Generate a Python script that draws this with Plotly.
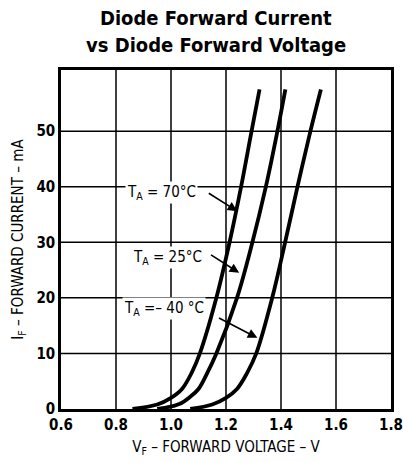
import plotly.graph_objects as go

# Forward voltage (V) / forward current (mA)
i_70c = [0, 0.8, 2.0, 3.6, 6.5, 10, 20, 30, 40, 50, 57.5]
v_70c = [0.86, 0.95, 1.00, 1.04, 1.075, 1.105, 1.165, 1.213, 1.255, 1.293, 1.322]
i_25c = [0, 0.9, 2.2, 3.6, 6.5, 10, 20, 30, 40, 50, 57.5]
v_25c = [0.95, 1.03, 1.07, 1.10, 1.132, 1.165, 1.24, 1.296, 1.345, 1.387, 1.416]
i_m40c = [0, 0.8, 2.0, 3.6, 6.5, 10, 20, 30, 40, 50, 57.5]
v_m40c = [1.07, 1.15, 1.20, 1.24, 1.277, 1.31, 1.368, 1.415, 1.46, 1.507, 1.545]

x_ticks = [0.6, 0.8, 1.0, 1.2, 1.4, 1.6, 1.8]
y_ticks = [0, 10, 20, 30, 40, 50]
x_max, y_max = 1.8, 61

# label text, label position (V, mA), arrow tail, arrow head
labels = [
    ("T<sub>A</sub> = 70°C", 0.967, 38.9, 1.132, 39.0, 1.241, 35.6),
    ("T<sub>A</sub> = 25°C", 0.987, 27.2, 1.14, 27.9, 1.248, 24.5),
    ("T<sub>A</sub> =– 40 °C", 0.974, 18.1, 1.169, 16.5, 1.314, 12.8),
]

FONT = "Liberation Sans Narrow, DejaVu Sans Condensed, Arial Narrow, sans-serif"

fig = go.Figure()
for v, i in ((v_70c, i_70c), (v_25c, i_25c), (v_m40c, i_m40c)):
    fig.add_trace(go.Scatter(
        x=v, y=i, mode="lines",
        line=dict(color="black", width=3.8, shape="spline", smoothing=1.0),
        showlegend=False, hoverinfo="skip",
    ))

# grid drawn as shapes at the tick positions
for xv in x_ticks[1:-1]:
    fig.add_shape(type="line", x0=xv, x1=xv, y0=0, y1=y_max, xref="x", yref="y",
                  line=dict(color="black", width=1.5), layer="below")
for yv in y_ticks[1:]:
    fig.add_shape(type="line", x0=x_ticks[0], x1=x_max, y0=yv, y1=yv, xref="x", yref="y",
                  line=dict(color="black", width=1.5), layer="below")

for text, tx, ty, ax, ay, hx, hy in labels:
    fig.add_annotation(
        x=tx, y=ty, text=text, showarrow=False,
        font=dict(family=FONT, size=15, color="black"),
        bgcolor="white", xanchor="center", yanchor="middle",
    )
    fig.add_annotation(
        x=hx, y=hy, ax=ax, ay=ay, axref="x", ayref="y",
        text="", showarrow=True, arrowhead=2, arrowsize=1.2,
        arrowwidth=1.6, arrowcolor="black",
    )

# two-line title
for text, ypos in (("Diode Forward Current", 1.153), ("vs Diode Forward Voltage", 1.074)):
    fig.add_annotation(
        x=0.47, y=ypos, xref="paper", yref="paper", text=f"<b>{text}</b>",
        showarrow=False, xanchor="center", yanchor="middle",
        font=dict(family=FONT, size=20, color="black"),
    )

fig.update_layout(
    width=403, height=462,
    margin=dict(l=61, r=12, t=70, b=53),
    paper_bgcolor="white", plot_bgcolor="white",
    font=dict(family=FONT, color="black"),
)
fig.update_xaxes(
    range=[x_ticks[0], x_max], tickvals=x_ticks,
    ticktext=[f"<b>{t:.1f}</b>" for t in x_ticks],
    showgrid=False,
    showline=True, linecolor="black", linewidth=2.5, mirror=True,
    zeroline=False, ticks="", tickfont=dict(size=15), automargin=False,
    ticklabeloverflow="allow",
    title=dict(text="V<sub>F</sub> – FORWARD VOLTAGE – V",
               font=dict(size=15), standoff=9),
)
fig.update_yaxes(
    range=[0, y_max], tickvals=y_ticks,
    ticktext=[f"<b>{t}</b>" for t in y_ticks],
    showgrid=False,
    showline=True, linecolor="black", linewidth=2.5, mirror=True,
    zeroline=False, ticks="", tickfont=dict(size=15), automargin=False,
    title=dict(text="I<sub>F</sub> – FORWARD CURRENT – mA",
               font=dict(size=15), standoff=10),
)

# drop the page's default body margin so the figure sits at the window corner
fig.write_html(
    "out.html",
    config={"displayModeBar": False},
    post_script="document.body.style.margin = '0';",
)
